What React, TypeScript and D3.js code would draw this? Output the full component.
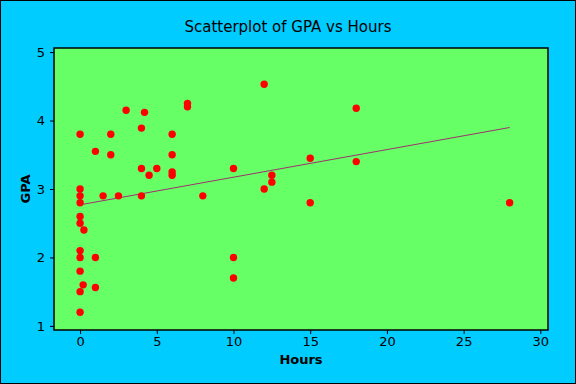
import * as React from 'react';
import * as d3 from 'd3';

// hours studied and GPA
const hours = [
  0, 0, 0, 0, 0, 0, 0, 0, 0, 0, 0,
  0.25, 0.2,
  1, 1, 1,
  1.5, 2, 2, 2.5, 3,
  4, 4, 4, 4.2, 4.5, 5,
  6, 6, 6, 6,
  7, 7, 8,
  10, 10, 10,
  12, 12, 12.5, 12.5,
  15, 15, 18, 18, 28,
];
const gpa = [
  3.8, 3.0, 2.9, 2.8, 2.6, 2.5, 2.1, 2.0, 1.8, 1.5, 1.2,
  2.4, 1.6,
  3.55, 2.0, 1.56,
  2.9, 3.8, 3.5, 2.9, 4.15,
  3.89, 3.3, 2.9, 4.12, 3.2, 3.3,
  3.8, 3.5, 3.25, 3.2,
  4.25, 4.2, 2.9,
  3.3, 2.0, 1.7,
  4.53, 3.0, 3.2, 3.1,
  3.45, 2.8, 4.18, 3.4, 2.8,
];
const xTicks = [0, 5, 10, 15, 20, 25, 30];
const yTicks = [1, 2, 3, 4, 5];

const title = 'Scatterplot of GPA vs Hours';
const xLabel = 'Hours';
const yLabel = 'GPA';

const W = 576;
const H = 384;
const margin = { top: 48, right: 28, bottom: 54, left: 54 };
const font = '"DejaVu Sans", Tahoma, sans-serif';

export default function App() {
  const svg_root = React.useRef<SVGSVGElement>(null);

  React.useEffect(() => {
    const svg = d3.select(svg_root.current);
    svg.selectAll('*').remove();

    const x = d3.scaleLinear().domain([-1.7, 30.5]).range([margin.left, W - margin.right]);
    const y = d3.scaleLinear().domain([0.94, 5.06]).range([H - margin.bottom, margin.top]);

    // background + frame
    svg.append('rect')
      .attr('x', 0.5).attr('y', 0.5).attr('width', W - 1).attr('height', H - 1)
      .attr('fill', '#00ccff').attr('stroke', '#000');

    svg.append('rect')
      .attr('x', margin.left).attr('y', margin.top)
      .attr('width', W - margin.left - margin.right)
      .attr('height', H - margin.bottom - margin.top)
      .attr('fill', '#66ff66').attr('stroke', '#000').attr('stroke-width', 1.5);

    // axes
    const xAxis = svg.append('g')
      .attr('transform', `translate(0, ${H - margin.bottom})`)
      .call(d3.axisBottom(x).tickValues(xTicks).tickFormat(d3.format('d')).tickSize(4).tickPadding(3).tickSizeOuter(0));
    const yAxis = svg.append('g')
      .attr('transform', `translate(${margin.left}, 0)`)
      .call(d3.axisLeft(y).tickValues(yTicks).tickFormat(d3.format('d')).tickSize(4).tickPadding(5).tickSizeOuter(0));
    [xAxis, yAxis].forEach((a) => {
      a.select('.domain').remove();
      a.selectAll('text').attr('font-family', font).attr('font-size', 13).attr('fill', '#000');
      a.selectAll('line').attr('stroke', '#000');
    });

    // regression line (least squares)
    const n = hours.length;
    const mx = d3.mean(hours) as number;
    const my = d3.mean(gpa) as number;
    let sxy = 0, sxx = 0;
    for (let i = 0; i < n; i++) {
      sxy += (hours[i] - mx) * (gpa[i] - my);
      sxx += (hours[i] - mx) ** 2;
    }
    const slope = sxy / sxx;
    const icept = my - slope * mx;
    const ext = d3.extent(hours) as [number, number];
    const line = d3.line<number>().x((h) => x(h)).y((h) => y(icept + slope * h));
    svg.append('path')
      .datum(ext)
      .attr('d', line)
      .attr('fill', 'none')
      .attr('stroke', '#a0306e')
      .attr('stroke-width', 1);

    // points
    svg.append('g')
      .selectAll('circle')
      .data(hours)
      .join('circle')
      .attr('cx', (h) => x(h))
      .attr('cy', (_, i) => y(gpa[i]))
      .attr('r', 3.7)
      .attr('fill', '#ff0000');

    // labels
    svg.append('text')
      .attr('x', W / 2).attr('y', 32)
      .attr('text-anchor', 'middle')
      .attr('font-family', font).attr('font-size', 15)
      .text(title);
    svg.append('text')
      .attr('x', (margin.left + W - margin.right) / 2).attr('y', 364)
      .attr('text-anchor', 'middle')
      .attr('font-family', font).attr('font-size', 13).attr('font-weight', 'bold')
      .text(xLabel);
    svg.append('text')
      .attr('transform', `translate(30, ${(margin.top + H - margin.bottom) / 2}) rotate(-90)`)
      .attr('text-anchor', 'middle')
      .attr('font-family', font).attr('font-size', 13).attr('font-weight', 'bold')
      .text(yLabel);
  }, []);

  return (
    <div>
      <style>{'body{margin:0}'}</style>
      <svg ref={svg_root} width={W} height={H} style={{ display: 'block' }} />
    </div>
  );
}
